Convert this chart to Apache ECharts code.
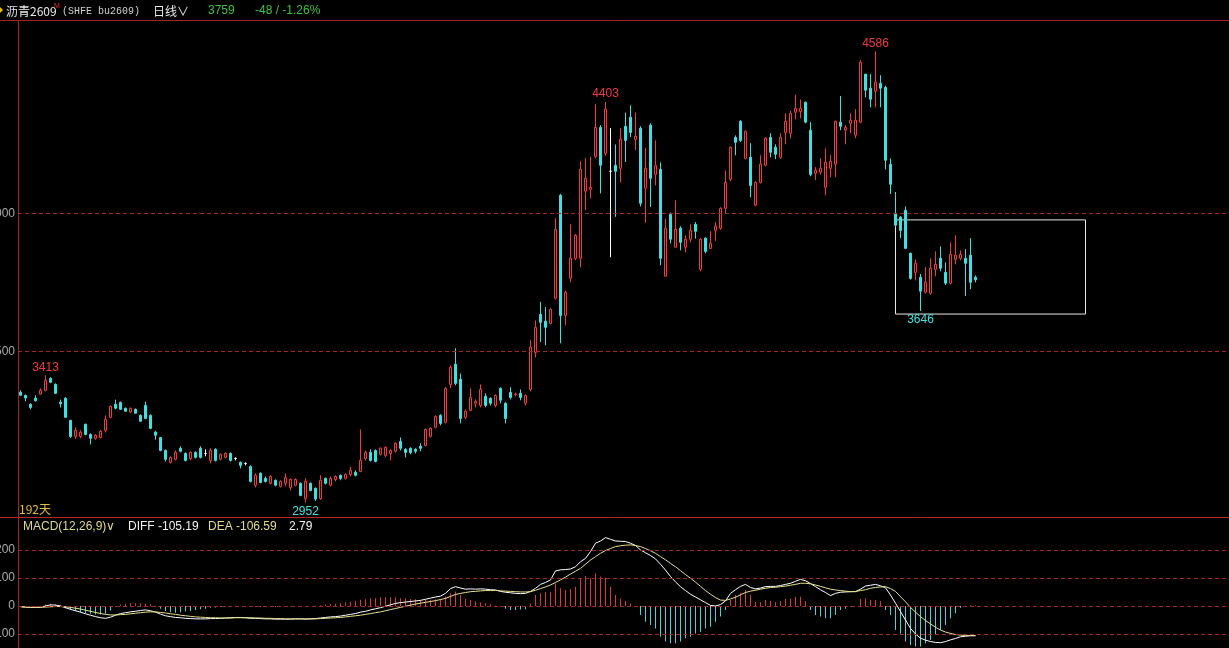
<!DOCTYPE html>
<html>
<head>
<meta charset="utf-8">
<title>沥青2609 日线</title>
<script src="https://cdn.jsdelivr.net/npm/echarts@6.0.0/dist/echarts.min.js"></script>
<style>
  html, body { margin: 0; padding: 0; background: #000; }
  #chart { width: 1229px; height: 648px; }
</style>
</head>
<body>
<div id="chart"></div>
<script>
// 192 daily candles (open / close / low / high)
const opens = [
  3352, 3340, 3308, 3330, 3345, 3359, 3402, 3380, 3316, 3330,
  3250, 3192, 3192, 3236, 3199, 3185, 3188, 3214, 3261, 3308,
  3315, 3294, 3280, 3290, 3268, 3304, 3268, 3207, 3188, 3141,
  3098, 3109, 3149, 3130, 3112, 3134, 3149, 3130, 3105, 3145,
  3109, 3116, 3130, 3112, 3098, 3094, 3083, 3015, 3058, 3040,
  3022, 3033, 3011, 3022, 3007, 3015, 3022, 2966, 3022, 3004,
  2967, 3040, 3015, 3036, 3051, 3040, 3054, 3062, 3065, 3112,
  3134, 3141, 3127, 3123, 3130, 3138, 3174, 3145, 3149, 3145,
  3156, 3159, 3192, 3225, 3268, 3243, 3380, 3453, 3399, 3261,
  3286, 3312, 3304, 3337, 3330, 3304, 3366, 3312, 3351, 3343,
  3348, 3312, 3362, 3496, 3634, 3609, 3601, 3692, 4065, 3630,
  3765, 3837, 3837, 4080, 4087, 4206, 4311, 4217, 4152, 4174,
  4163, 4315, 4348, 4268, 4308, 4091, 4319, 4141, 4159, 3772,
  3996, 3877, 3946, 3877, 3906, 3960, 3797, 3910, 3873, 3938,
  3946, 4018, 4123, 4275, 4333, 4199, 4203, 4029, 4112, 4174,
  4275, 4239, 4203, 4293, 4290, 4366, 4369, 4402, 4301, 4145,
  4149, 4094, 4163, 4178, 4330, 4301, 4326, 4283, 4330, 4504,
  4453, 4442, 4471, 4456, 4177, 4000, 3986, 4011, 3855, 3786,
  3768, 3714, 3710, 3797, 3837, 3786, 3747, 3833, 3837, 3837,
  3848, 3768
];
const closes = [
  3341, 3331, 3297, 3321, 3359, 3395, 3388, 3348, 3310, 3261,
  3192, 3214, 3207, 3199, 3185, 3196, 3210, 3254, 3301, 3294,
  3290, 3283, 3294, 3276, 3247, 3257, 3221, 3196, 3141, 3109,
  3116, 3134, 3138, 3105, 3134, 3116, 3116, 3130, 3141, 3105,
  3127, 3130, 3105, 3112, 3087, 3094, 3029, 3051, 3025, 3029,
  3047, 3015, 3029, 3043, 3036, 3036, 2978, 3029, 2996, 2965,
  3033, 3022, 3040, 3047, 3040, 3054, 3069, 3051, 3105, 3134,
  3105, 3101, 3149, 3152, 3141, 3167, 3149, 3134, 3134, 3138,
  3149, 3217, 3221, 3264, 3239, 3366, 3442, 3384, 3257, 3283,
  3333, 3319, 3362, 3304, 3312, 3340, 3323, 3257, 3333, 3345,
  3333, 3340, 3515, 3587, 3605, 3587, 3652, 3942, 3630, 3714,
  3837, 3920, 4159, 4127, 4094, 4311, 4174, 4377, 4152, 4152,
  4268, 4264, 4293, 4279, 4036, 4163, 4127, 4174, 3837, 3946,
  3906, 3942, 3895, 3906, 3938, 3935, 3906, 3862, 3891, 3953,
  4018, 4112, 4239, 4257, 4264, 4297, 4101, 4112, 4178, 4272,
  4221, 4214, 4275, 4333, 4362, 4380, 4380, 4330, 4141, 4156,
  4163, 4185, 4188, 4333, 4315, 4311, 4337, 4337, 4547, 4446,
  4413, 4475, 4453, 4192, 4105, 3957, 3938, 3873, 3764, 3819,
  3718, 3750, 3801, 3815, 3801, 3747, 3851, 3848, 3851, 3819,
  3750, 3759
];
const lows = [
  3338, 3319, 3290, 3318, 3343, 3355, 3385, 3346, 3297, 3259,
  3186, 3183, 3185, 3196, 3163, 3180, 3185, 3206, 3258, 3290,
  3288, 3281, 3276, 3274, 3245, 3254, 3218, 3180, 3138, 3101,
  3094, 3105, 3134, 3101, 3105, 3112, 3112, 3120, 3094, 3101,
  3105, 3112, 3101, 3105, 3076, 3087, 3025, 3007, 3022, 3025,
  3018, 3011, 3007, 3011, 2996, 3011, 2975, 2952, 2993, 2958,
  2962, 3018, 3011, 3029, 3033, 3036, 3047, 3047, 3062, 3105,
  3101, 3098, 3123, 3116, 3105, 3134, 3141, 3116, 3127, 3130,
  3138, 3156, 3188, 3221, 3232, 3239, 3366, 3377, 3239, 3254,
  3283, 3297, 3297, 3297, 3304, 3297, 3312, 3239, 3326, 3337,
  3323, 3304, 3355, 3478, 3534, 3522, 3598, 3688, 3529, 3594,
  3750, 3830, 3804, 4011, 4054, 4199, 4072, 4208, 3841, 3987,
  4112, 4186, 4276, 4228, 4025, 3966, 4023, 4101, 3812, 3772,
  3891, 3877, 3866, 3859, 3895, 3908, 3790, 3855, 3870, 3900,
  3940, 4000, 4116, 4210, 4258, 4195, 4058, 4025, 4108, 4170,
  4203, 4196, 4196, 4250, 4272, 4340, 4344, 4326, 4134, 4120,
  4140, 4065, 4130, 4130, 4301, 4250, 4290, 4272, 4326, 4420,
  4384, 4384, 4384, 4159, 4070, 3950, 3910, 3870, 3760, 3757,
  3646, 3710, 3705, 3772, 3790, 3740, 3743, 3815, 3830, 3700,
  3725, 3750
];
const highs = [
  3359, 3344, 3312, 3341, 3366, 3413, 3406, 3384, 3325, 3334,
  3252, 3225, 3214, 3238, 3203, 3200, 3216, 3268, 3304, 3325,
  3318, 3296, 3296, 3293, 3272, 3318, 3272, 3212, 3190, 3145,
  3120, 3141, 3156, 3134, 3138, 3138, 3156, 3145, 3149, 3149,
  3130, 3134, 3134, 3116, 3101, 3098, 3087, 3058, 3062, 3047,
  3051, 3036, 3033, 3058, 3040, 3040, 3025, 3040, 3025, 3007,
  3051, 3043, 3047, 3051, 3054, 3058, 3083, 3069, 3217, 3141,
  3145, 3145, 3152, 3156, 3145, 3170, 3188, 3149, 3152, 3149,
  3167, 3221, 3225, 3268, 3272, 3370, 3449, 3511, 3420, 3290,
  3366, 3326, 3380, 3348, 3333, 3344, 3369, 3315, 3370, 3351,
  3362, 3344, 3540, 3612, 3679, 3660, 3656, 3982, 4070, 3720,
  3960, 3925, 4188, 4199, 4204, 4395, 4319, 4403, 4308, 4249,
  4308, 4365, 4391, 4365, 4315, 4237, 4326, 4264, 4184, 3980,
  4003, 4047, 3953, 3920, 3960, 3968, 3910, 3913, 3935, 3968,
  4022, 4155, 4242, 4282, 4337, 4300, 4254, 4116, 4210, 4275,
  4290, 4250, 4290, 4362, 4372, 4430, 4412, 4405, 4330, 4167,
  4200, 4235, 4210, 4336, 4425, 4320, 4362, 4377, 4555, 4504,
  4504, 4586, 4500, 4462, 4199, 4077, 3990, 4025, 3858, 3833,
  3780, 3805, 3837, 3862, 3880, 3822, 3895, 3920, 3866, 3870,
  3910, 3775
];

// MACD(12,26,9) panel
const diff = [
  -2, -4, -5, -5, -4, 0, 4, 3, 0, -6,
  -12, -17, -22, -28, -33, -38, -42, -44, -40, -33,
  -27, -24, -21, -19, -16, -14, -17, -22, -29, -35,
  -38, -41, -42, -44, -45, -46, -46, -46, -45, -45,
  -44, -43, -42, -41, -41, -42, -44, -44, -45, -46,
  -46, -47, -47, -47, -47, -46, -46, -47, -46, -45,
  -43, -41, -39, -38, -36, -33, -30, -27, -22, -19,
  -14, -10, -6, -1, 4, 9, 12, 14, 16, 18,
  20, 24, 28, 32, 35, 45, 62, 69, 64, 60,
  61, 60, 61, 60, 58, 57, 52, 49, 47, 45,
  44, 45, 52, 63, 77, 84, 93, 125, 129, 130,
  132, 140, 158, 170, 194, 224, 232, 244, 238, 232,
  231, 230, 224, 216, 200, 190, 180, 168, 149, 128,
  105, 86, 69, 55, 42, 32, 22, 12, 2, 0,
  5, 18, 45, 58, 70, 77, 66, 61, 64, 69,
  70, 70, 73, 77, 81, 88, 95, 90, 80, 69,
  58, 48, 37, 45, 49, 50, 51, 51, 60, 71,
  74, 77, 72, 65, 39, 10, -20, -50, -80, -100,
  -115, -122, -127, -130, -131, -127, -121, -116, -110, -108,
  -106, -105.19
];
const dea = [
  -3, -4, -5, -5, -5, -4, -3, -2, -2, -3,
  -5, -8, -11, -15, -19, -23, -27, -30, -32, -32,
  -31, -30, -28, -26, -24, -22, -21, -21, -23, -25,
  -28, -30, -33, -35, -37, -39, -40, -41, -42, -42,
  -43, -43, -43, -42, -42, -42, -42, -43, -43, -44,
  -44, -45, -45, -46, -46, -46, -46, -46, -46, -46,
  -45, -44, -43, -42, -41, -39, -37, -35, -33, -30,
  -27, -24, -21, -17, -13, -9, -5, -1, 3, 7,
  10, 13, 16, 19, 23, 27, 34, 41, 45, 48,
  51, 52, 54, 55, 55, 56, 54, 53, 52, 51,
  50, 50, 51, 56, 62, 68, 75, 84, 93, 103,
  114, 124, 134, 149, 164, 176, 188, 198, 205, 212,
  215, 217, 218, 216, 212, 205, 197, 188, 176, 165,
  152, 140, 126, 112, 99, 85, 70, 55, 42, 30,
  21, 20, 25, 31, 40, 48, 53, 56, 60, 63,
  66, 67, 69, 71, 74, 77, 81, 81, 79, 75,
  70, 65, 60, 57, 55, 53, 51, 52, 55, 58,
  63, 66, 68, 69, 62, 52, 33, 15, -5, -22,
  -38, -52, -64, -76, -86, -93, -98, -102, -104, -105,
  -106, -106.59
];
const macd = [
  1, 0, 0, 0, 1, 5, 8, 6, 3, -8,
  -14, -18, -22, -26, -28, -30, -30, -28, -16, -2,
  5, 8, 10, 10, 10, 9, 7, -2, -10, -18,
  -22, -24, -22, -20, -18, -14, -12, -10, -6, -5,
  -3, -2, -1, 1, 1, 0, -2, -2, -3, -3,
  -3, -3, -3, -2, -1, 0, 0, -1, 0, 1,
  3, 5, 7, 8, 10, 12, 15, 18, 22, 24,
  27, 28, 31, 31, 31, 30, 28, 27, 25, 24,
  22, 21, 22, 24, 25, 34, 45, 52, 40, 25,
  20, 16, 12, 10, 6, 2, -2, -10, -14, -14,
  -13, -12, 9, 39, 45, 49, 51, 81, 63, 57,
  61, 69, 99, 107, 99, 117, 105, 101, 69, 39,
  27, 18, 9, 0, -32, -56, -68, -80, -110, -127,
  -133, -133, -127, -115, -110, -98, -92, -80, -74, -56,
  -38, -14, 21, 39, 45, 57, 39, 15, 13, 21,
  18, 13, 18, 25, 27, 33, 33, 18, -14, -32,
  -38, -44, -44, -32, -14, -10, -2, 0, 25, 27,
  21, 21, 18, -14, -32, -86, -98, -127, -139, -145,
  -145, -133, -121, -104, -86, -68, -44, -26, -6, 1,
  2, 2.79
];

// axis slots: the candles fill the first 192, the rest stays empty
const days = Array.from({ length: 242 }, (_, i) => String(i + 1));
const priceLines = [3500, 4000];
const macdLines = [200, 100, 0, -100];
// [index, price, kind] labels on the swing highs / lows
const swings = [[5, 3413, 'high'], [117, 4403, 'high'], [171, 4586, 'high'], [57, 2952, 'low'], [180, 3646, 'low']];
// white box round the last range: [fromIndex, toIndex, topPrice, bottomPrice]
const box = [175, 213, 3976, 3635];

const UP = '#f03c3c';
const DOWN = '#40e0e0';
const DASH = { color: '#a02828', type: [4, 3], width: 1 };
const FRAME = '#a52222';
const LATIN = '"Liberation Sans", Arial, sans-serif';
const CJK = '"Noto Sans CJK SC", sans-serif';

const candles = opens.map((o, i) => [o, closes[i], lows[i], highs[i]]);

const chart = echarts.init(document.getElementById('chart'));

const hiddenX = (gridIndex) => ({
  type: 'category',
  gridIndex,
  data: days,
  boundaryGap: true,
  axisLine: { show: false },
  axisTick: { show: false },
  axisLabel: { show: false },
  splitLine: { show: false },
});

const text = (x, y, str, fill, font) => ({
  type: 'text',
  x,
  y,
  silent: true,
  style: { text: str, fill, font, verticalAlign: 'middle' },
});

const option = {
  backgroundColor: '#000',
  animation: false,
  grid: [
    { left: 18, right: 1, top: 20, height: 497, outerBoundsMode: 'none', containLabel: false },
    { left: 18, right: 1, top: 518, height: 130, outerBoundsMode: 'none', containLabel: false },
  ],
  xAxis: [hiddenX(0), hiddenX(1)],
  yAxis: [
    {
      type: 'value',
      gridIndex: 0,
      min: 2900,
      max: 4700,
      interval: 100,
      axisLine: { show: false },
      axisTick: { show: false },
      splitLine: { show: false },
      axisLabel: {
        color: '#a8a8a8',
        fontSize: 12,
        fontFamily: LATIN,
        margin: 3,
        formatter: (v) => (priceLines.includes(v) ? String(v) : ''),
      },
    },
    {
      type: 'value',
      gridIndex: 1,
      min: -150,
      max: 314,
      interval: 50,
      axisLine: { show: false },
      axisTick: { show: false },
      splitLine: { show: false },
      axisLabel: {
        color: '#a8a8a8',
        fontSize: 12,
        fontFamily: LATIN,
        margin: 3,
        formatter: (v) => (macdLines.includes(v) ? String(v) : ''),
      },
    },
  ],
  series: [
    {
      type: 'candlestick',
      xAxisIndex: 0,
      yAxisIndex: 0,
      data: candles,
      barWidth: 3,
      itemStyle: {
        color: '#000',
        color0: DOWN,
        borderColor: UP,
        borderColor0: DOWN,
        borderColorDoji: '#ffffff',
        borderWidth: 1,
      },
      markLine: {
        silent: true,
        symbol: ['none', 'none'],
        label: { show: false },
        lineStyle: DASH,
        data: priceLines.map((v) => ({ yAxis: v })),
      },
      markPoint: {
        silent: true,
        symbol: 'circle',
        symbolSize: 1,
        itemStyle: { color: 'rgba(0,0,0,0)' },
        label: { show: true, position: 'inside', fontSize: 12, fontFamily: LATIN, formatter: '{c}' },
        data: swings.map(([i, v, kind]) => ({
          coord: [i, v],
          value: v,
          label: { color: kind === 'high' ? UP : DOWN, offset: [0, kind === 'high' ? -8 : 9] },
        })),
      },
      markArea: {
        silent: true,
        itemStyle: { color: 'rgba(0,0,0,0)', borderColor: '#e6e6e6', borderWidth: 1 },
        data: [[{ coord: [box[0], box[2]] }, { coord: [box[1], box[3]] }]],
      },
    },
    {
      type: 'bar',
      xAxisIndex: 1,
      yAxisIndex: 1,
      data: macd,
      barWidth: 1,
      itemStyle: { color: (p) => (p.value >= 0 ? '#d83a3a' : '#50cfd6') },
      markLine: {
        silent: true,
        symbol: ['none', 'none'],
        label: { show: false },
        lineStyle: DASH,
        data: macdLines.map((v) => ({ yAxis: v })),
      },
    },
    {
      type: 'line',
      name: 'DIFF',
      xAxisIndex: 1,
      yAxisIndex: 1,
      data: diff,
      showSymbol: false,
      lineStyle: { color: '#ffffff', width: 1 },
    },
    {
      type: 'line',
      name: 'DEA',
      xAxisIndex: 1,
      yAxisIndex: 1,
      data: dea,
      showSymbol: false,
      lineStyle: { color: '#e8e08c', width: 1 },
    },
  ],
  graphic: [
    { type: 'line', silent: true, shape: { x1: 0, y1: 20.5, x2: 1229, y2: 20.5 }, style: { stroke: FRAME, lineWidth: 1 } },
    { type: 'line', silent: true, shape: { x1: 18.5, y1: 20, x2: 18.5, y2: 648 }, style: { stroke: FRAME, lineWidth: 1 } },
    { type: 'line', silent: true, shape: { x1: 0, y1: 517.5, x2: 1229, y2: 517.5 }, style: { stroke: '#b82626', lineWidth: 1 } },
    { type: 'polygon', silent: true, shape: { points: [[0, 7], [3, 10], [0, 13]] }, style: { fill: '#e8c000' } },
    text(6, 11, '沥青2609', '#e8e8e8', '12px ' + CJK),
    text(54, 6, 'M', '#e03030', '7px ' + LATIN),
    text(62, 11, '(SHFE bu2609)', '#d0d0d0', '10px "Liberation Mono", monospace'),
    text(153, 11, '日线∨', '#e8e8e8', '12px ' + CJK),
    text(208, 11, '3759', '#40c040', '12px ' + LATIN),
    text(255, 11, '-48 / -1.26%', '#40c040', '12px ' + LATIN),
    text(19, 509, opens.length + '天', '#e0c040', '12px ' + CJK),
    text(23, 527, 'MACD(12,26,9)∨', '#e0d890', '12px ' + LATIN),
    text(128, 527, 'DIFF -105.19', '#f0f0f0', '12px ' + LATIN),
    text(208, 527, 'DEA -106.59', '#e6dc8c', '12px ' + LATIN),
    text(289, 527, '2.79', '#f0f0f0', '12px ' + LATIN),
  ],
};

chart.setOption(option);
</script>
</body>
</html>
